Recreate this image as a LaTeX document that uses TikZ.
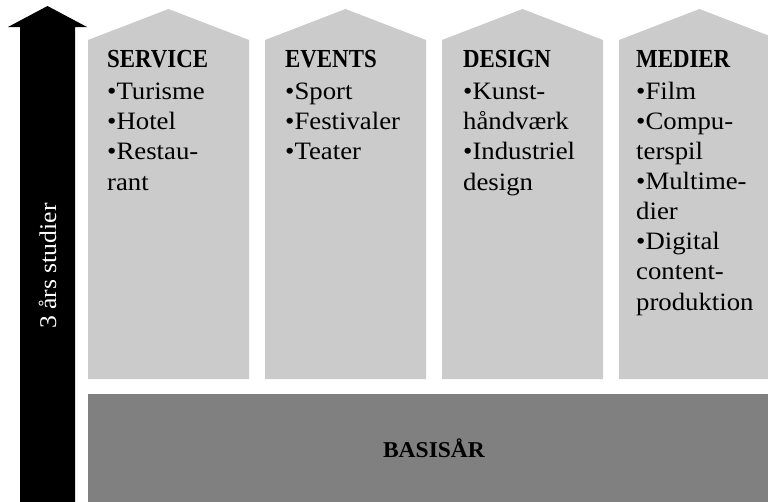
\documentclass[tikz,border=0pt]{standalone}
\usepackage{fontspec}
\setmainfont{Liberation Serif}[FakeStretch=1.07]
\newfontfamily\headfont{Liberation Serif Bold}[FakeStretch=0.88]
\newfontfamily\basefont{Liberation Serif Bold}[FakeStretch=1.04]
\definecolor{colgray}{RGB}{203,203,203}
\definecolor{basegray}{RGB}{128,128,128}
\tikzset{
  pillar/.style={fill=colgray, draw=none},
  basebox/.style={fill=basegray, draw=none},
  heading/.style={font=\fontsize{26}{30}\headfont, inner sep=0pt, anchor=base west},
  item/.style={font=\fontsize{25}{30}\selectfont, inner sep=0pt, anchor=base west},
}
\begin{document}
\begin{tikzpicture}[x=1pt,y=-1pt]
\useasboundingbox (0,0) rectangle (768,501);
\clip (0,0) rectangle (768,501);
% arrow
\fill[black] (20,520) -- (20,27) -- (8,27) -- (47.5,6) -- (87,27) -- (75,27) -- (75,520) -- cycle;
\node[rotate=90, text=white, inner sep=0pt, font=\fontsize{24}{28}\selectfont] (years) at (47.5,266) {3 års studier};
% pillars
\foreach \L in {88,265,442,619}{
  \fill[pillar] (\L,379) -- (\L,40) -- ({\L+80.5},9) -- ({\L+161},40) -- ({\L+161},379) -- cycle;
}
% base
\fill[basebox] (88,394) rectangle (780,510);
\node[font=\fontsize{22.6}{26}\basefont, inner sep=0pt, anchor=base] (base) at (434,457) {BASISÅR};
% texts
\node[heading] (h1) at (107,67) {SERVICE};
\foreach \t [count=\i] in {•Turisme,•Hotel,•Restau-,rant}
  \node[item] (a\i) at (107,{99+30.4*(\i-1)}) {\t};
\node[heading] (h2) at (285,67) {EVENTS};
\foreach \t [count=\i] in {•Sport,•Festivaler,•Teater}
  \node[item] (b\i) at (285,{99+30.4*(\i-1)}) {\t};
\node[heading] (h3) at (463,67) {DESIGN};
\foreach \t [count=\i] in {•Kunst-,håndværk,•Industriel,design}
  \node[item] (c\i) at (463,{99+30.4*(\i-1)}) {\t};
\node[heading] (h4) at (636,67) {MEDIER};
\foreach \t [count=\i] in {•Film,•Compu-,terspil,•Multime-,dier,•Digital,content-,produktion}
  \node[item] (d\i) at (636,{99+30.15*(\i-1)}) {\t};
\end{tikzpicture}
\end{document}
